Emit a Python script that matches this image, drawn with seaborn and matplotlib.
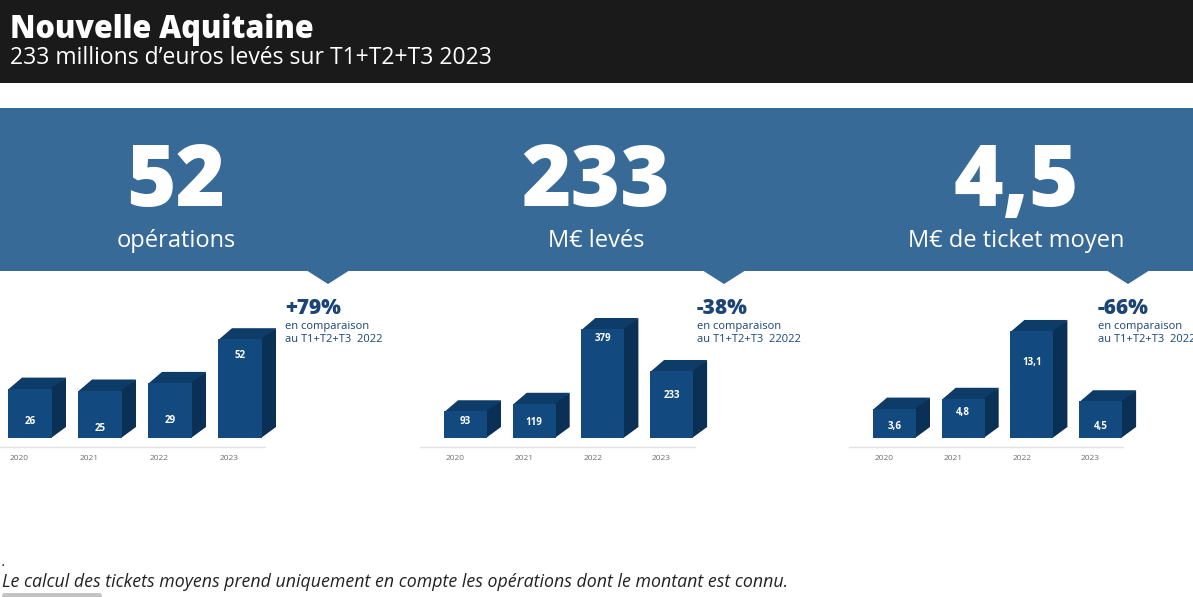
import matplotlib
matplotlib.use("Agg")
import matplotlib.pyplot as plt
import seaborn as sns
import pandas as pd
from matplotlib.patches import Rectangle, Polygon, FancyBboxPatch

# ---------------- data ----------------
years = ["2020", "2021", "2022", "2023"]
operations = [26, 25, 29, 52]
montants = [93, 119, 379, 233]
tickets = [3.6, 4.8, 13.1, 4.5]
labels_operations = ["26", "25", "29", "52"]
labels_montants = ["93", "119", "379", "233"]
labels_tickets = ["3,6", "4,8", "13,1", "4,5"]

kpi_values = ["52", "233", "4,5"]
kpi_labels = ["opérations", "M€ levés", "M€ de ticket moyen"]
variations = ["+79%", "-38%", "-66%"]
comparison_line1 = ["en comparaison", "en comparaison", "en comparaison"]
comparison_line2 = ["au T1+T2+T3  2022", "au T1+T2+T3  22022", "au T1+T2+T3  2022"]

title = "Nouvelle Aquitaine"
subtitle = "233 millions d\u2019euros levés sur T1+T2+T3 2023"
footnote = "Le calcul des tickets moyens prend uniquement en compte les opérations dont le montant est connu."

# ---------------- style ----------------
sns.set_style("white")
plt.rcParams["font.family"] = ["Open Sans", "DejaVu Sans"]

W, H = 1193, 597
HEADER = "#1a1a1a"
BAND = "#386a98"
FRONT = "#124a7f"
TOP = "#0e3c69"
SIDE = "#0a3055"
NAVY = "#1b4574"

fig = plt.figure(figsize=(W / 100, H / 100), dpi=100)
bg = fig.add_axes([0, 0, 1, 1])
bg.set_xlim(0, W)
bg.set_ylim(H, 0)
bg.axis("off")

# header
bg.add_patch(Rectangle((0, 0), W, 83, color=HEADER, lw=0))
bg.text(10, 38, title, color="white", fontsize=22, fontweight="heavy", va="baseline", ha="left")
bg.text(10, 64, subtitle, color="white", fontsize=16.5, va="baseline", ha="left")

# blue band
bg.add_patch(Rectangle((0, 108), W, 163, color=BAND, lw=0))

# panel layouts (pixel geometry)
panels = [
    dict(vals=operations, labs=labels_operations, bar0=8, sp=70.0, bw=44, ppu=1.9,
         frac=[0.33, 0.21, 0.31, 0.84], kx=176, notch=328, ann=285, line=(0, 265)),
    dict(vals=montants, labs=labels_montants, bar0=444, sp=68.7, bw=43, ppu=0.2876,
         frac=[0.6, 0.44, 0.91, 0.63], kx=596, notch=724, ann=697, line=(420, 695)),
    dict(vals=tickets, labs=labels_tickets, bar0=873, sp=68.7, bw=43, ppu=8.17,
         frac=[0.38, 0.66, 0.71, 0.31], kx=1016, notch=1128, ann=1098, line=(849, 1123)),
]

BASE = 438
AX_TOP = 300
DX, DY = 14, 11

for i, p in enumerate(panels):
    # KPI
    bg.text(p["kx"], 206, kpi_values[i], color="white", fontsize=61, fontweight="heavy",
            ha="center", va="baseline")
    bg.text(p["kx"], 247, kpi_labels[i], color="white", fontsize=17, ha="center", va="baseline")
    # notch
    a = p["notch"]
    bg.add_patch(Polygon([(a - 22, 270), (a + 22, 270), (a, 284)], closed=True, color=BAND, lw=0))
    # variation annotation
    bg.text(p["ann"], 308, variations[i], color=NAVY, fontsize=15, fontweight="heavy",
            ha="left", va="center")
    bg.text(p["ann"], 326, comparison_line1[i], color=NAVY, fontsize=8, ha="left", va="center")
    bg.text(p["ann"], 339, comparison_line2[i], color=NAVY, fontsize=8, ha="left", va="center")
    # baseline line
    bg.plot(list(p["line"]), [447, 447], color="#e2e2e2", lw=1)

    # bar axes
    sp = p["sp"]
    left = p["bar0"] + p["bw"] / 2 - 0.5 * sp
    ax = fig.add_axes([left / W, 1 - BASE / H, 4 * sp / W, (BASE - AX_TOP) / H])
    ax.patch.set_alpha(0)
    df = pd.DataFrame({"year": years, "value": p["vals"]})
    sns.barplot(data=df, x="year", y="value", ax=ax, color=FRONT, saturation=1,
                width=p["bw"] / sp, linewidth=0, zorder=3)
    ax.set_xlim(-0.5, 3.5)
    ax.set_ylim(0, (BASE - AX_TOP) / p["ppu"])
    ax.axis("off")

    dxd = DX / sp
    dyd = DY / p["ppu"]
    ov = 1.0 / sp
    bars = list(ax.patches)[:4]
    for j, b in enumerate(bars):
        x, w, h = b.get_x(), b.get_width(), b.get_height()
        top = Polygon([(x, h - 1 / p["ppu"]), (x + w, h - 1 / p["ppu"]), (x + w + dxd, h + dyd),
                       (x + dxd, h + dyd)],
                      closed=True, color=TOP, lw=0, clip_on=False, zorder=2)
        side = Polygon([(x + w - ov, 0), (x + w + dxd, dyd), (x + w + dxd, h + dyd), (x + w - ov, h)],
                       closed=True, color=SIDE, lw=0, clip_on=False, zorder=2)
        ax.add_patch(top)
        ax.add_patch(side)
        ax.text(x + w / 2, p["frac"][j] * h, p["labs"][j], color="white", fontsize=7,
                fontweight="bold", ha="center", va="center", zorder=5)
        ax.text(x + 2 / sp, -21 / p["ppu"], years[j], color="#6e6e6e", fontsize=6,
                ha="left", va="center", clip_on=False)

# footnote
bg.text(2, 566, ".", color="#222222", fontsize=11, style="italic", ha="left", va="baseline")
bg.text(2, 587, footnote, color="#222222", fontsize=12.8, style="italic", ha="left", va="baseline")
bg.add_patch(FancyBboxPatch((2, 593), 100, 8, boxstyle="round,pad=0,rounding_size=3",
                            color="#c4c4c4", lw=0))

fig.savefig("out.png", dpi=100)
